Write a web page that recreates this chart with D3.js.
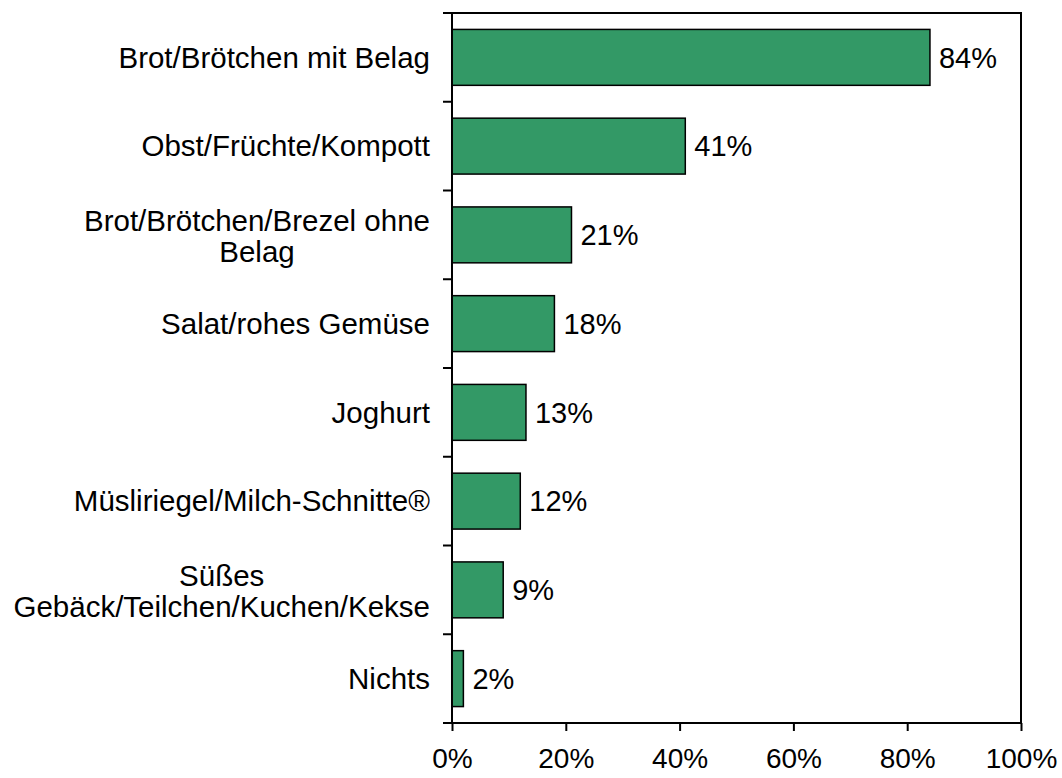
<!DOCTYPE html>
<html>
<head>
<meta charset="utf-8">
<script src="https://cdn.jsdelivr.net/npm/d3@7"></script>
<style>
  html, body { margin: 0; padding: 0; background: #fff; }
  svg { display: block; font-family: "Liberation Sans", Arial, sans-serif; }
</style>
</head>
<body>
<svg id="chart" width="1062" height="778"></svg>
<script>
// Snack categories (label lines) and shares in percent
const categories = [
  ["Brot/Brötchen mit Belag"],
  ["Obst/Früchte/Kompott"],
  ["Brot/Brötchen/Brezel ohne", "Belag"],
  ["Salat/rohes Gemüse"],
  ["Joghurt"],
  ["Müsliriegel/Milch-Schnitte®"],
  ["Süßes", "Gebäck/Teilchen/Kuchen/Kekse"],
  ["Nichts"]
];
const values = [84, 41, 21, 18, 13, 12, 9, 2];
const xTicks = [0, 20, 40, 60, 80, 100];

(function () {
const svg = d3.select("#chart");
const plotLeft = 452, plotRight = 1021, plotTop = 13, plotBottom = 723;
const fontSize = 29.5;
const axisFontSize = 28;
const barColor = "#339966";

const ids = categories.map((c, i) => i);
const y = d3.scaleBand().domain(ids).range([plotTop, plotBottom]).paddingInner(0.37).paddingOuter(0.185);
const yb = d3.scaleBand().domain(ids).range([plotTop, plotBottom]);
const x = d3.scaleLinear().domain([0, 100]).range([plotLeft, plotRight]);

// bars
svg.append("g").selectAll("rect").data(values).join("rect")
  .attr("x", x(0))
  .attr("y", (d, i) => y(i))
  .attr("width", d => x(d) - x(0))
  .attr("height", y.bandwidth())
  .attr("fill", barColor)
  .attr("stroke", "#000")
  .attr("stroke-width", 1.5);

// value labels
svg.append("g").selectAll("text").data(values).join("text")
  .attr("x", d => x(d) + 9)
  .attr("y", (d, i) => y(i) + y.bandwidth() / 2)
  .attr("dy", "0.35em")
  .attr("font-size", 29)
  .attr("fill", "#000")
  .text(d => d + "%");

// frame: top and right edges
svg.append("path")
  .attr("d", `M${plotLeft - 9},${plotTop}H${plotRight}V${plotBottom}`)
  .attr("fill", "none").attr("stroke", "#000").attr("stroke-width", 2);

// category axis with ticks at band boundaries
const yAxis = svg.append("g");
yAxis.append("line").attr("x1", plotLeft).attr("x2", plotLeft).attr("y1", plotTop).attr("y2", plotBottom)
  .attr("stroke", "#000").attr("stroke-width", 2);
const bounds = ids.map(i => yb(i)).concat([plotBottom]);
yAxis.selectAll("line.tick").data(bounds).join("line").attr("class", "tick")
  .attr("x1", plotLeft - 9).attr("x2", plotLeft).attr("y1", d => d).attr("y2", d => d)
  .attr("stroke", "#000").attr("stroke-width", 2);

// category labels, multi-line blocks centred on their widest line
const labelRight = 430, lineH = 31;
categories.forEach((lines, i) => {
  const g = svg.append("g");
  const cy = yb(i) + yb.bandwidth() / 2;
  const texts = lines.map(t => g.append("text")
    .attr("font-size", fontSize).attr("fill", "#000").text(t));
  const widths = texts.map(t => t.node().getComputedTextLength());
  const maxW = d3.max(widths);
  const n = lines.length;
  texts.forEach((t, k) => {
    const yy = cy + (k - (n - 1) / 2) * lineH + (n > 1 ? 1 : 0);
    if (n > 1) {
      t.attr("text-anchor", "middle").attr("x", labelRight - maxW / 2);
    } else {
      t.attr("text-anchor", "end").attr("x", labelRight);
    }
    t.attr("y", yy).attr("dy", "0.35em");
  });
});

// value axis
const xAxis = d3.axisBottom(x).tickValues(xTicks).tickFormat(d => d + "%")
  .tickSizeInner(8).tickSizeOuter(0).tickPadding(17);
const gx = svg.append("g").attr("transform", `translate(0,${plotBottom})`).call(xAxis);
gx.select(".domain").attr("stroke", "#000").attr("stroke-width", 2)
  .attr("d", `M${plotLeft - 9},0H${plotRight}`);
gx.selectAll(".tick line").attr("stroke", "#000").attr("stroke-width", 2);
gx.selectAll(".tick text").attr("font-size", axisFontSize).attr("fill", "#000")
  .attr("font-family", "Liberation Sans, Arial, sans-serif");
})();
</script>
</body>
</html>
